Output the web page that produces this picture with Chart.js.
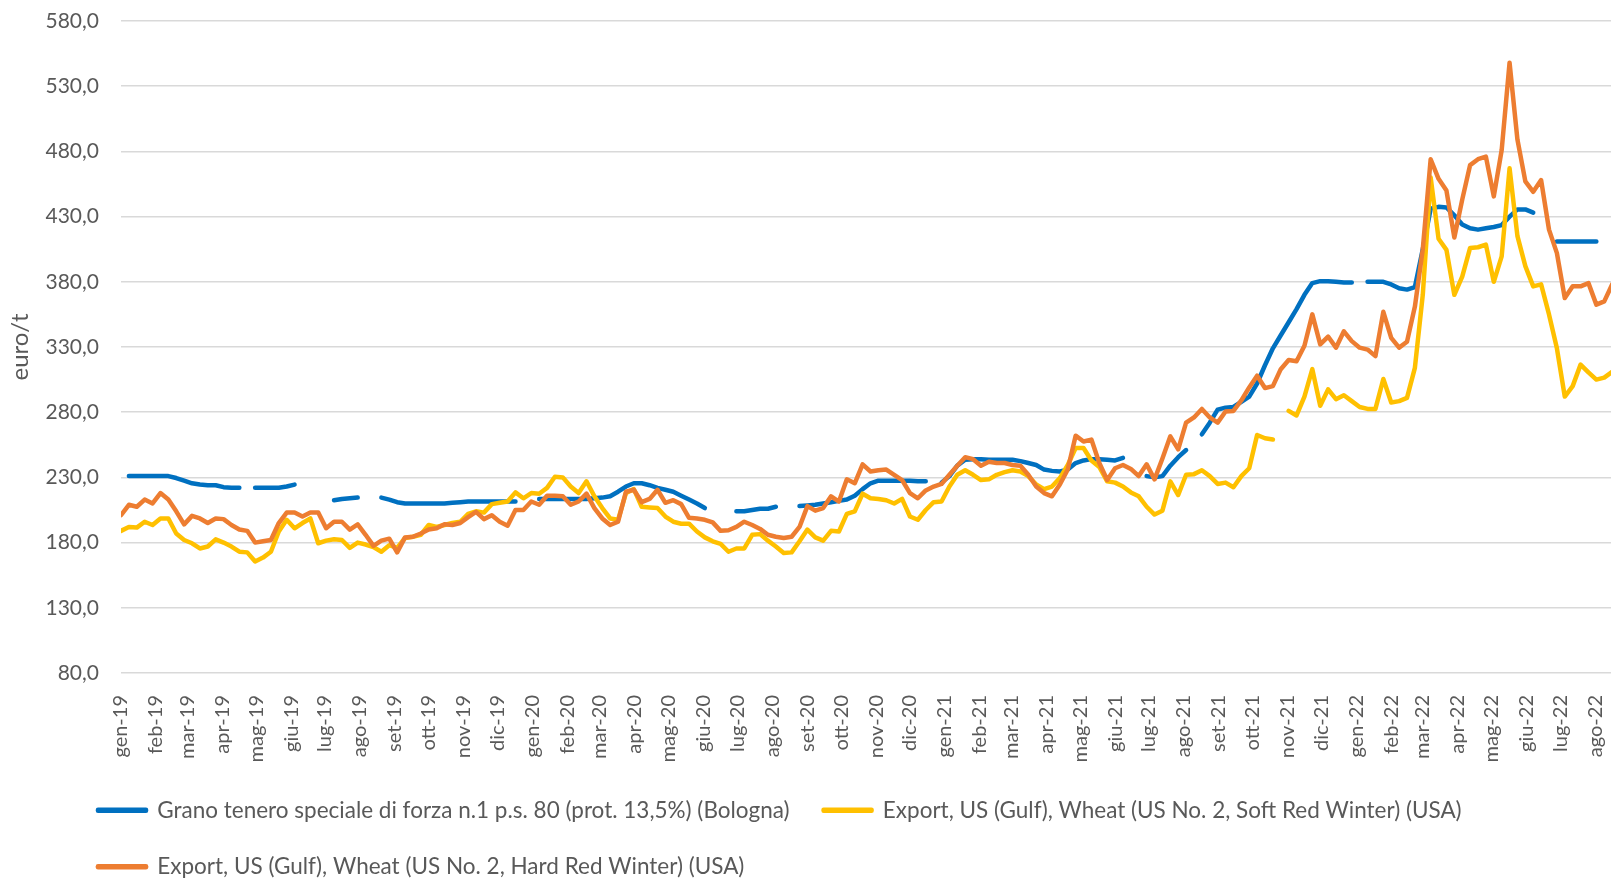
<!DOCTYPE html>
<html lang="it">
<head>
<meta charset="utf-8">
<title>Prezzi grano tenero</title>
<script src="https://cdn.jsdelivr.net/npm/chart.js@4.4.0/dist/chart.umd.min.js"></script>
<style>
  html, body { margin: 0; padding: 0; background: #fff; }
  #wrap { width: 1611px; height: 879px; }
</style>
</head>
<body>
<div id="wrap"><canvas id="prezzi"></canvas></div>
<script>
// etichette mensili dell'asse x
const months = [
  "gen-19", "feb-19", "mar-19", "apr-19", "mag-19", "giu-19", "lug-19", "ago-19", "set-19", "ott-19", "nov-19", "dic-19",
  "gen-20", "feb-20", "mar-20", "apr-20", "mag-20", "giu-20", "lug-20", "ago-20", "set-20", "ott-20", "nov-20", "dic-20",
  "gen-21", "feb-21", "mar-21", "apr-21", "mag-21", "giu-21", "lug-21", "ago-21", "set-21", "ott-21", "nov-21", "dic-21",
  "gen-22", "feb-22", "mar-22", "apr-22", "mag-22", "giu-22", "lug-22", "ago-22"
];

// prezzi settimanali (euro/t), prima settimana = 1 gen 2019
const bologna = [
  null, 231, 231, 231, 231, 231, 231, 229.5, 227.5, 225.5,
  224.5, 224, 224, 222.5, 222, 222, null, 222, 222, 222,
  222, 223, 224.5, null, null, null, null, 212.5, 213.5, 214,
  214.5, null, null, 214.5, 213, 211, 210, 210, 210, 210,
  210, 210, 210.5, 211, 211.5, 211.5, 211.5, 211.5, 211.5, 211.5,
  211.5, null, null, 213.5, 213.5, 213.5, 213.5, 213.5, 213.5, 213.5,
  214, 214.5, 215.5, 219, 223, 225.5, 225.5, 224, 222, 220.5,
  219, 216, 213, 210, 206.5, null, null, null, 204, 204,
  205, 206, 206, 207.5, null, null, 208, 208.5, 209, 210,
  211, 212, 213, 216, 221, 225.5, 227.5, 227.5, 227.5, 227.5,
  227.5, 227, 227, null, 226, 231, 239, 243.5, 244, 244,
  243.5, 243.5, 243.5, 243.5, 242.5, 241, 239.5, 236, 235, 234.5,
  236, 241, 243, 244, 244, 243.5, 243, 245, null, null,
  231, 230, 231, 239, 245.5, 251, null, 263, 272, 282,
  283.5, 284, 288, 292, 302, 316, 329, 339, 349, 359,
  370, 379, 380.5, 380.5, 380, 379.5, 379.5, null, 380, 380,
  380, 378, 375, 374, 376, 405, 436, 437.5, 437, 431,
  424, 421, 420, 421, 422, 423.5, 430, 435.5, 435.5, 433,
  null, null, 411, 411, 411, 411, 411, 411, null, null
];

const srw = [
  189, 192, 191.5, 196, 193.5, 198.5, 198.5, 187, 182, 179.5,
  175.5, 177, 182.5, 180, 177, 173, 172.5, 165.5, 168.5, 173,
  188.5, 197.5, 191, 195, 198.5, 179.5, 181.5, 182.5, 182, 176,
  180, 178.5, 176.5, 173, 178, 176, 183.5, 184.5, 186, 193.5,
  192, 193.5, 195, 196, 202, 204, 203, 209.5, 210.5, 211.5,
  218.5, 214, 218, 217.5, 222, 230.5, 230, 223, 218, 227,
  215.5, 206.5, 198.5, 197.5, 218, 221, 207.5, 207, 206.5, 200,
  196, 194.5, 194.5, 188.5, 184, 181, 179, 173, 175.5, 175.5,
  186, 186.5, 181.5, 177, 172, 172.5, 181, 190, 184, 181.5,
  189, 188.5, 202, 204, 217.5, 214, 213.5, 212.5, 210, 213.5,
  200, 197.5, 205, 211, 211.5, 223, 232, 235.5, 232, 228,
  228.5, 232, 234, 235.5, 234.5, 231, 224.5, 221, 223, 229.5,
  239.5, 252.5, 252.5, 243, 238, 227, 226, 223, 218.5, 215.5,
  207.5, 201.5, 204.5, 227, 216.5, 232, 232.5, 235.5, 231, 225,
  226, 222.5, 231, 237, 262.5, 260, 259, null, 281, 277.5,
  292, 313, 285, 297.5, 290, 293, 288.5, 284, 282.5, 282.5,
  305.5, 287.5, 288.5, 291, 314, 370, 460, 413, 404.5, 370,
  384, 406, 406.5, 408.5, 380, 399.5, 467, 415, 392, 376.5,
  378, 355, 329, 292, 300, 316.5, 310.5, 305, 306.5, 311
];

const hrw = [
  201, 209, 207.5, 213, 210, 218, 213, 204, 194, 200.5,
  198.5, 195, 198.5, 198, 193.5, 190, 189, 180, 181, 182,
  195, 203, 203, 200, 203, 203, 191, 196, 196, 190,
  194, 186, 177.5, 181.5, 183, 172.5, 184, 184.5, 187, 190,
  191, 194, 193.5, 195, 199.5, 203.5, 198, 201, 196, 193,
  205, 205, 211.5, 209, 216, 216, 215.5, 209, 211.5, 217.5,
  206.5, 198.5, 193.5, 196, 219, 220.5, 211, 213.5, 220.5, 210.5,
  212.5, 209.5, 199, 198.5, 197.5, 195.5, 189, 189.5, 192, 196,
  193.5, 190.5, 186, 184.5, 183.5, 184.5, 192, 208, 204.5, 206.5,
  215.5, 211.5, 228.5, 225.5, 240, 234.5, 235.5, 236, 232, 228,
  218, 214, 220, 223, 225, 232, 239, 245.5, 244, 239,
  242, 241, 241, 239.5, 239, 232, 223, 218, 215.5, 224.5,
  236, 262, 257.5, 259, 241, 228, 237, 239.5, 236.5, 231,
  240, 228.5, 244.5, 261.5, 251.5, 272, 276, 282.5, 276, 272,
  280.5, 281, 289, 299, 308, 298.5, 300, 313, 320, 319,
  331, 355, 332, 338, 329.5, 342, 334.5, 329.5, 328, 323,
  357, 337, 329.5, 334, 361, 405, 474, 459, 450, 414,
  443, 469.5, 474, 476, 445.5, 481, 548, 489, 457, 449,
  458, 420, 402, 367.5, 376.5, 376.5, 379, 362.5, 365, 378
];

const yTicks = { min: 80, max: 580, step: 50 };

// giorni dal 1 gen 2019
const start = Date.UTC(2019, 0, 1);
const monthDays = months.map((m, k) => (Date.UTC(2019, k, 1) - start) / 86400000);
const toPoints = arr => arr.map((v, i) => ({ x: i * 7, y: v }));

// sposta la legenda come nell'originale e lascia spazio alle etichette lunghe
const legendShift = {
  id: "legendShift",
  afterLayout(chart) {
    const lg = chart.legend;
    lg.left += 64;
    lg.right += 64;
    lg.top += 9;
    lg.bottom += 9;
    chart.scales.x.bottom += 20;
  }
};

Chart.defaults.font.family = "Lato, 'Open Sans', sans-serif";
Chart.defaults.color = "#595959";

new Chart(document.getElementById("prezzi"), {
  type: "line",
  data: {
    datasets: [
      {
        label: "Export, US (Gulf), Wheat (US No. 2, Hard Red Winter) (USA)",
        data: toPoints(hrw),
        borderColor: "#ED7D31",
        backgroundColor: "#ED7D31"
      },
      {
        label: "Export, US (Gulf), Wheat (US No. 2, Soft Red Winter) (USA)",
        data: toPoints(srw),
        borderColor: "#FFC000",
        backgroundColor: "#FFC000"
      },
      {
        label: "Grano tenero speciale di forza n.1 p.s. 80 (prot. 13,5%) (Bologna)",
        data: toPoints(bologna),
        borderColor: "#0070C0",
        backgroundColor: "#0070C0"
      }
    ]
  },
  options: {
    responsive: true,
    maintainAspectRatio: false,
    animation: false,
    spanGaps: false,
    layout: { padding: { top: 21, right: 0, bottom: 0, left: 0 } },
    elements: {
      line: { borderWidth: 4.5, tension: 0, borderJoinStyle: "round", borderCapStyle: "round" },
      point: { radius: 0, hoverRadius: 0 }
    },
    plugins: {
      tooltip: { enabled: false },
      legend: {
        position: "bottom",
        align: "start",
        labels: {
          boxWidth: 48,
          boxHeight: 1,
          padding: 34,
          font: { size: 22.5 },
          color: "#595959",
          sort: (a, b) => b.datasetIndex - a.datasetIndex
        }
      }
    },
    scales: {
      x: {
        type: "linear",
        min: 0,
        max: 1322,
        bounds: "data",
        grid: { display: false },
        border: { display: false },
        ticks: {
          autoSkip: false,
          minRotation: 90,
          maxRotation: 90,
          padding: 14,
          font: { size: 20 },
          color: "#595959",
          callback: (v, i) => months[i]
        },
        afterBuildTicks: s => { s.ticks = monthDays.map(d => ({ value: d })); },
        afterFit: s => { s.height = 83; s.paddingLeft = 0; s.paddingRight = 0; }
      },
      y: {
        min: yTicks.min,
        max: yTicks.max,
        grid: { color: "#d9d9d9", lineWidth: 1.5, drawTicks: false },
        border: { display: false },
        ticks: {
          stepSize: yTicks.step,
          padding: 22,
          font: { size: 21 },
          color: "#595959",
          callback: v => v.toFixed(1).replace(".", ",")
        },
        title: {
          display: true,
          text: "euro/t",
          color: "#595959",
          font: { size: 24 },
          padding: { top: 6, bottom: 0 }
        },
        afterFit: s => { s.width = 121; s.paddingTop = 0; s.paddingBottom = 0; }
      }
    }
  },
  plugins: [legendShift]
});
</script>
</body>
</html>
